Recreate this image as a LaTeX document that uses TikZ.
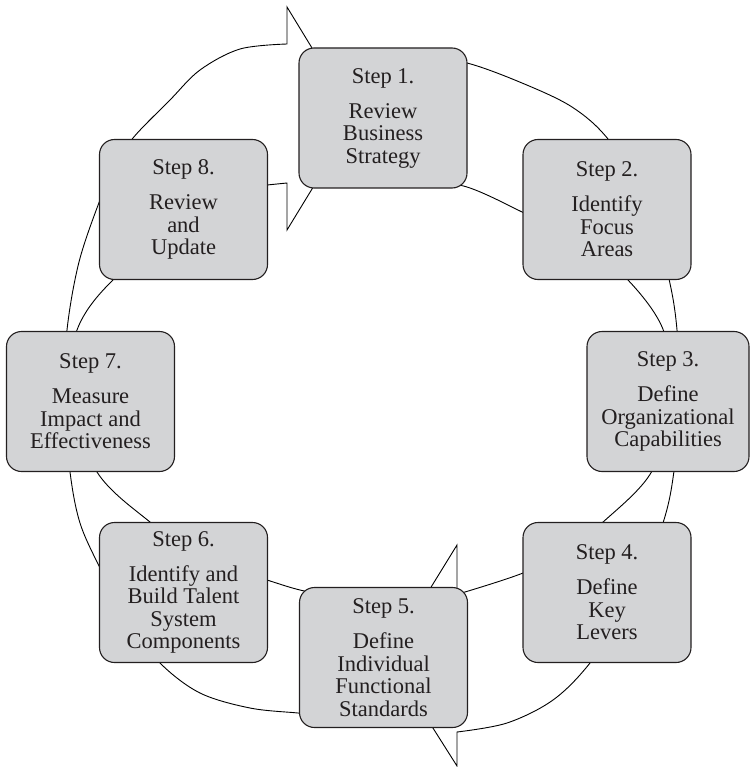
\documentclass[tikz,border=0pt]{standalone}
\usepackage{fontspec}
\setmainfont{Liberation Serif}
\definecolor{boxgray}{RGB}{211,212,214}
\definecolor{inkdark}{RGB}{35,31,32}
\begin{document}
\begin{tikzpicture}[x=1pt,y=-1pt,
  stepbox/.style={draw=inkdark, line width=1.1pt, fill=boxgray,
    rounded corners=15pt, minimum width=168pt, minimum height=140pt,
    inner sep=0pt, align=center, text=inkdark,
    font=\fontsize{22.5}{22.5}\selectfont},
  ring/.style={draw=black, line width=0.9pt, line join=miter}
]
\useasboundingbox (0,0) rectangle (750,767);

% left half of the cycle: Step 5 round to Step 1, arrow pointing right
\draw[ring] plot[smooth, tension=0.55] coordinates {(330,716) (298,713) (250,708) (200,693) (160,663) (127,620) (100,568) (80,523) (70,472) (64,400) (67,330) (79,262) (100,200) (115,167) (133,138) (170,100) (200,70) (240,49) (287,44)}
  -- (287,7) -- (355,118.5) -- (287,230) -- (287,183)
  -- plot[smooth, tension=0.55] coordinates {(267,185) (188,222) (113,280) (77,330) (70,395) (97,472) (150,522) (205,560) (267,580) (300,590) (340,598)};

% right half of the cycle: Step 1 round to Step 5, arrow pointing left
\draw[ring] plot[smooth, tension=0.55] coordinates {(420,57) (467,63) (522,83) (572,107) (608,139) (648,200) (669,279) (677,330) (680,400) (674,471) (663,523) (633,600) (590,663) (553,700) (507,723) (457,732)}
  -- (457,766) -- (388,657) -- (457,545) -- (457,594)
  -- plot[smooth, tension=0.55] coordinates {(465,592) (523,573) (566,551) (602,523) (652,471) (668,400) (664,332) (627,279) (578,242) (522,212) (467,187) (420,180)};

% the eight steps
\node[stepbox] (s1) at (383,118) {Step 1.\\[12.5pt]Review\\Business\\Strategy};
\node[stepbox] (s2) at (607,209.5) {Step 2.\\[12.5pt]Identify\\Focus\\Areas};
\node[stepbox, minimum width=162pt] (s3) at (668,401.5) {Step 3.\\[12.5pt]Define\\Organizational\\Capabilities};
\node[stepbox] (s4) at (607,592.5) {Step 4.\\[12.5pt]Define\\Key\\Levers};
\node[stepbox] (s5) at (383.5,657.5) {Step 5.\\[12.5pt]Define\\Individual\\Functional\\Standards};
\node[stepbox] (s6) at (183.5,592.5) {Step 6.\\[12.5pt]Identify and\\Build Talent\\System\\Components};
\node[stepbox] (s7) at (90.5,401.5) {Step 7.\\[12.5pt]Measure\\Impact and\\Effectiveness};
\node[stepbox] (s8) at (183.5,209.5) {Step 8.\\[12.5pt]Review\\and\\Update};
\end{tikzpicture}
\end{document}
